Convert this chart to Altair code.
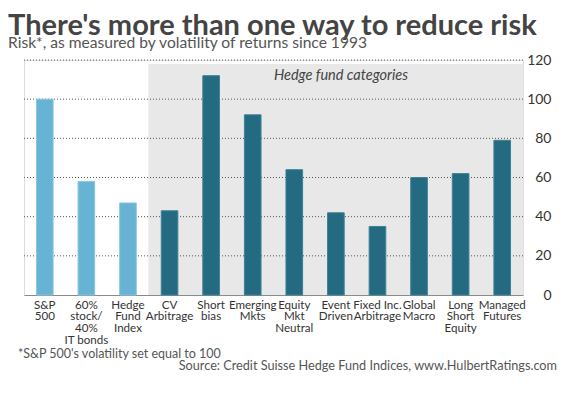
import altair as alt
import pandas as pd

categories = ["S&P|500", "60%|stock/|40%|IT bonds", "Hedge|Fund|Index",
              "CV|Arbitrage", "Short|bias", "Emerging|Mkts", "Equity|Mkt|Neutral",
              "Event|Driven", "Fixed Inc.|Arbitrage", "Global|Macro",
              "Long|Short|Equity", "Managed|Futures"]
risk = [100, 58, 47, 43, 112, 92, 64, 42, 35, 60, 62, 79]
groups = ["benchmark"] * 3 + ["hedge"] * 9
grid_values = [20, 40, 60, 80, 100, 120]
y_ticks = [0, 20, 40, 60, 80, 100, 120]
shade_top = 118

df = pd.DataFrame({"cat": categories, "risk": risk, "group": groups})
hedge_df = df[df["group"] == "hedge"]
grid_df = pd.DataFrame({"v": grid_values})

FONT = "Lato"
W, H = 499, 235

xscale = alt.Scale(domain=categories, paddingInner=0.6, paddingOuter=0.3)
yscale = alt.Scale(domain=[0, 120], nice=False)

x_axis = alt.Axis(labelAngle=0, labelExpr="split(datum.label, '|')",
                  labelFont=FONT, labelFontSize=11.6, labelColor="#333",
                  labelLineHeight=11.8, labelPadding=4, ticks=False,
                  domainColor="#8a8a8a", domainWidth=1.2,
                  labelOverlap=False, labelBound=False, labelFlush=False)
y_axis = alt.Axis(orient="right", values=y_ticks, grid=False, domain=False,
                  ticks=False, labelFont=FONT, labelFontSize=14,
                  labelColor="#333", labelAlign="right", labelPadding=28,
                  labelBaseline="middle", labelOverlap=False, labelFlush=False)

shade = alt.Chart(hedge_df).mark_bar(color="#e8e8e8", width=alt.RelativeBandSize(2.55)).transform_calculate(
    top=f"{shade_top}", bottom="0"
).encode(
    x=alt.X("cat:N", sort=categories, scale=xscale, title=None, axis=x_axis),
    y=alt.Y("top:Q", scale=yscale, title=None, axis=y_axis),
    y2="bottom:Q",
)

grid = alt.Chart(grid_df).mark_rule(color="#555", strokeDash=[1, 2], strokeWidth=1).encode(
    y=alt.Y("v:Q", scale=yscale, title=None, axis=y_axis),
)

bars = alt.Chart(df).mark_bar(strokeWidth=1).encode(
    x=alt.X("cat:N", sort=categories, scale=xscale, title=None, axis=x_axis),
    y=alt.Y("risk:Q", scale=yscale, title=None, axis=y_axis),
    color=alt.Color("group:N", scale=alt.Scale(domain=["benchmark", "hedge"],
                                               range=["#67b3d3", "#246b82"]), legend=None),
    stroke=alt.Color("group:N", scale=alt.Scale(domain=["benchmark", "hedge"],
                                                range=["#8cc7df", "#3f8196"]), legend=None),
)

def txt(s, x, y, size, weight="normal", style="normal", align="left", color="#444"):
    return alt.Chart(pd.DataFrame({"t": [s]})).mark_text(
        align=align, baseline="alphabetic", font=FONT, fontSize=size,
        fontWeight=weight, fontStyle=style, color=color
    ).encode(text="t:N", x=alt.value(x), y=alt.value(y))

title = txt("There's more than one way to reduce risk", -16, -25, 29, weight="bold", color="#444")
subtitle = txt("Risk*, as measured by volatility of returns since 1993", -16, -12, 15.6, color="#555")
hedge_label = txt("Hedge fund categories", 317, 20, 14.5, style="italic", align="center", color="#444")
note = txt("*S&P 500's volatility set equal to 100", -6, 298, 12.5, color="#555")
source = txt("Source: Credit Suisse Hedge Fund Indices, www.HulbertRatings.com", 533, 310, 12.7,
             align="right", color="#555")

chart = alt.layer(shade, grid, bars, hedge_label, title, subtitle, note, source).resolve_scale(
    stroke="independent"
).properties(
    width=W, height=H,
    autosize=alt.AutoSizeParams(type="none"),
    padding={"left": 16, "top": 52, "right": 38, "bottom": 85},
).configure_view(stroke=None).configure(background="white")

chart.save("out.html", embed_options={"renderer": "svg", "actions": False})
